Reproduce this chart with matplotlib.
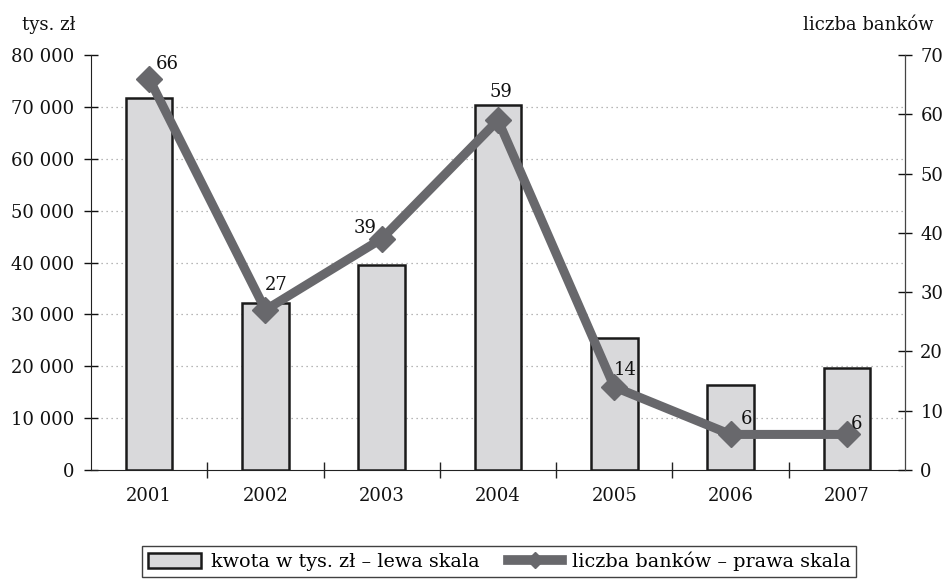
import matplotlib
matplotlib.use("Agg")
import matplotlib.pyplot as plt
from matplotlib.ticker import FuncFormatter, FixedLocator
from matplotlib.patches import Patch
from matplotlib.lines import Line2D

# ---------------------------------------------------------------------------
# data
# ---------------------------------------------------------------------------
years  = ["2001", "2002", "2003", "2004", "2005", "2006", "2007"]
kwota  = [71800, 32100, 39600, 70400, 25500, 16300, 19700]   # tys. zł (left)
banki  = [66, 27, 39, 59, 14, 6, 6]                          # liczba banków (right)

left_ticks  = [0, 10000, 20000, 30000, 40000, 50000, 60000, 70000, 80000]
right_ticks = [0, 10, 20, 30, 40, 50, 60, 70]

# label offsets in pixels (dx, dy) for the point labels
label_off = [(18, 15), (11, 25), (-17, 11), (3, 28), (11, 17), (16, 15), (10, 10)]

BAR_FILL = "#d9d9db"
LINE_COL = "#68686c"
EDGE     = "#1a1a1a"

plt.rcParams["font.family"] = "DejaVu Serif"
plt.rcParams["font.size"] = 13

W, H = 946, 580
fig = plt.figure(figsize=(W / 100, H / 100), dpi=100)
ax = fig.add_axes([91 / W, 1 - 470 / H, (905 - 91) / W, (470 - 55) / H])
ax2 = ax.twinx()

x = list(range(len(years)))

# ---------------------------------------------------------------------------
# bars (left scale)
# ---------------------------------------------------------------------------
ax.bar(x, kwota, width=0.4, color=BAR_FILL, edgecolor=EDGE, linewidth=1.8, zorder=3)
ax.set_xlim(-0.5, len(years) - 0.5)
ax.set_ylim(left_ticks[0], left_ticks[-1])

for t in left_ticks[1:-1]:
    ax.axhline(t, color="#a0a0a0", lw=0.9, ls=(0, (1, 3)), zorder=1)

ax.yaxis.set_major_locator(FixedLocator(left_ticks))
ax.yaxis.set_major_formatter(FuncFormatter(lambda v, p: f"{v:,.0f}".replace(",", " ")))
ax.tick_params(axis="y", direction="inout", length=10, width=1, pad=7, colors="#111")

ax.set_xticks(x)
ax.set_xticklabels(years)
ax.set_xticks([i + 0.5 for i in x[:-1]], minor=True)
ax.tick_params(axis="x", which="major", length=0, pad=12, colors="#111")
ax.tick_params(axis="x", which="minor", direction="inout", length=11, width=1, color="#222")

ax.spines["top"].set_visible(False)
ax2.spines["top"].set_visible(False)
for s in ["left", "bottom"]:
    ax.spines[s].set_color("#222")
ax2.spines["right"].set_color("#444")
ax2.spines["left"].set_visible(False)
ax2.spines["bottom"].set_visible(False)

# ---------------------------------------------------------------------------
# line (right scale)
# ---------------------------------------------------------------------------
ax2.plot(x, banki, color=LINE_COL, lw=6.5, marker="D", markersize=13,
         solid_joinstyle="miter", zorder=4)
ax2.set_ylim(right_ticks[0], right_ticks[-1])
ax2.yaxis.set_major_locator(FixedLocator(right_ticks))
ax2.tick_params(axis="y", direction="inout", length=10, width=1, pad=6, colors="#111")

for xi, v, (dx, dy) in zip(x, banki, label_off):
    ax2.annotate(str(v), (xi, v), xytext=(dx, dy), textcoords="offset pixels",
                 ha="center", va="center", color="#111", zorder=5)

# axis titles
fig.text(22 / W, 1 - 25 / H, "tys. zł", ha="left", va="center", color="#111")
fig.text(933 / W, 1 - 25 / H, "liczba banków", ha="right", va="center", color="#111")

# ---------------------------------------------------------------------------
# legend
# ---------------------------------------------------------------------------
handles = [
    Patch(facecolor=BAR_FILL, edgecolor=EDGE, linewidth=1.8),
    Line2D([], [], color=LINE_COL, lw=7, marker="D", markersize=8),
]
leg = fig.legend(handles, ["kwota w tys. zł – lewa skala", "liczba banków – prawa skala"],
                 loc="upper left", bbox_to_anchor=(142 / W, 1 - 546 / H), ncol=2,
                 frameon=True, fancybox=False, edgecolor="#111", fontsize=13.8,
                 handlelength=2.8, handleheight=0.8, handletextpad=0.5,
                 columnspacing=1.5, borderpad=0.3, borderaxespad=0)
leg.get_frame().set_linewidth(1)

fig.savefig("out.png", dpi=100)
